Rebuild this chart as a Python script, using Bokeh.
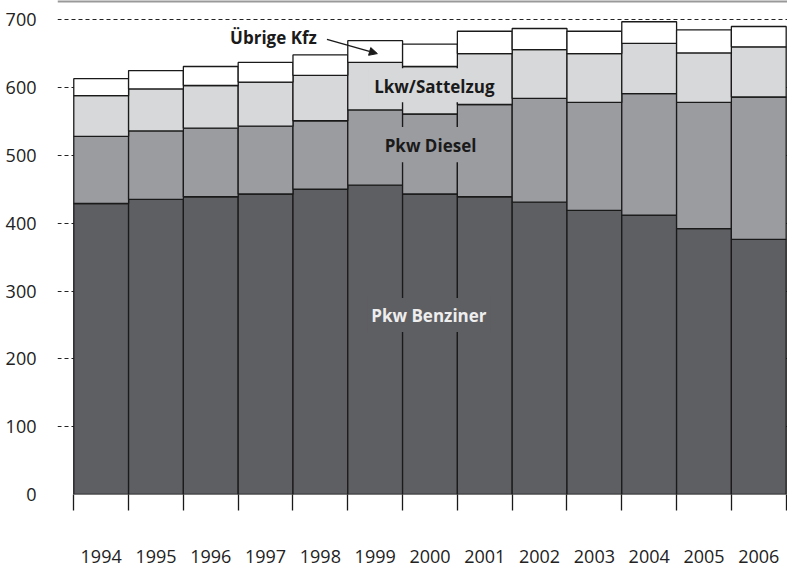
from bokeh.plotting import figure
from bokeh.models import ColumnDataSource, FixedTicker, Range1d, Span, Arrow, NormalHead
from bokeh.core.properties import value
from bokeh.embed import file_html
from bokeh.resources import INLINE

years = ["1994", "1995", "1996", "1997", "1998", "1999", "2000",
         "2001", "2002", "2003", "2004", "2005", "2006"]
pkw_benziner = [429, 435, 439, 443, 450, 456, 443, 439, 431, 419, 412, 392, 376]
pkw_diesel = [99, 101, 101, 100, 101, 111, 118, 136, 153, 159, 179, 186, 210]
lkw_sattelzug = [60, 62, 63, 65, 67, 70, 70, 75, 72, 72, 74, 73, 74]
uebrige_kfz = [25, 27, 28, 29, 30, 32, 33, 33, 31, 33, 32, 34, 30]
y_ticks = [0, 100, 200, 300, 400, 500, 600, 700]

series = ["benz", "diesel", "lkw", "ueb"]
colors = ["#5e5f63", "#9b9ca0", "#d7d8da", "#ffffff"]

xs = list(range(len(years)))
source = ColumnDataSource(dict(x=xs, benz=pkw_benziner, diesel=pkw_diesel,
                               lkw=lkw_sattelzug, ueb=uebrige_kfz))

FONT = "Open Sans"
Y_TOP = 728.3

p = figure(width=787, height=569, output_backend="svg", toolbar_location=None,
           x_range=Range1d(-0.797, 12.524), y_range=Range1d(0, Y_TOP),
           min_border_left=57, min_border_right=0, min_border_top=0,
           min_border_bottom=75)
p.outline_line_color = None
p.background_fill_color = "white"
p.border_fill_color = "white"

p.vbar_stack(series, x="x", width=1.0, source=source, fill_color=colors,
             line_color="#1a1a1a", line_width=1.3)

# axes
p.xgrid.visible = False
p.ygrid.ticker = FixedTicker(ticks=y_ticks)
p.ygrid.grid_line_color = "#222222"
p.ygrid.grid_line_dash = "4 3"
p.ygrid.grid_line_width = 1

ya = p.yaxis[0]
ya.ticker = FixedTicker(ticks=y_ticks)
ya.axis_line_color = None
ya.major_tick_line_color = None
ya.minor_tick_line_color = None
ya.major_label_standoff = 15
ya.major_label_text_font = FONT
ya.major_label_text_font_size = "18px"
ya.major_label_text_color = "#222222"

xa = p.xaxis[0]
xa.ticker = FixedTicker(ticks=xs, minor_ticks=[i - 0.5 for i in range(len(years) + 1)])
xa.major_label_overrides = {i: y for i, y in enumerate(years)}
xa.axis_line_color = None
xa.major_tick_in = 0
xa.major_tick_out = 0
xa.minor_tick_in = 0
xa.minor_tick_out = 16
xa.minor_tick_line_color = "#1a1a1a"
xa.minor_tick_line_width = 1.3
xa.major_label_standoff = 39
xa.major_label_text_font = FONT
xa.major_label_text_font_size = "18px"
xa.major_label_text_color = "#222222"

# top rule
p.add_layout(Span(location=Y_TOP, dimension="width", line_color="#999999", line_width=4))

# label backgrounds
p.quad(left=[4.88], right=[7.29], bottom=[578.4], top=[628.5], fill_color=colors[2], line_color=None)
p.quad(left=[5.1], right=[6.9], bottom=[490], top=[541.8], fill_color=colors[1], line_color=None)
p.quad(left=[4.86], right=[7.1], bottom=[239.5], top=[289.6], fill_color=colors[0], line_color=None)

# labels
p.text(x=[3.144], y=[674], text=["Übrige Kfz"], text_align="center", text_baseline="middle",
       text_font=value(FONT), text_font_style="bold", text_font_size="17px", text_color="#1a1a1a")
p.text(x=[6.08], y=[602], text=["Lkw/Sattelzug"], text_align="center", text_baseline="middle",
       text_font=value(FONT), text_font_style="bold", text_font_size="17px", text_color="#1a1a1a")
p.text(x=[6.01], y=[515], text=["Pkw Diesel"], text_align="center", text_baseline="middle",
       text_font=value(FONT), text_font_style="bold", text_font_size="17px", text_color="#1a1a1a")
p.text(x=[5.98], y=[264], text=["Pkw Benziner"], text_align="center", text_baseline="middle",
       text_font=value(FONT), text_font_style="bold", text_font_size="17px", text_color="#eeeeee")

p.add_layout(Arrow(end=NormalHead(size=8, fill_color="#1a1a1a", line_color="#1a1a1a"),
                   x_start=4.12, y_start=671, x_end=5.04, y_end=650,
                   line_color="#1a1a1a", line_width=1.5))

open("out.html", "w").write(file_html(p, INLINE))
